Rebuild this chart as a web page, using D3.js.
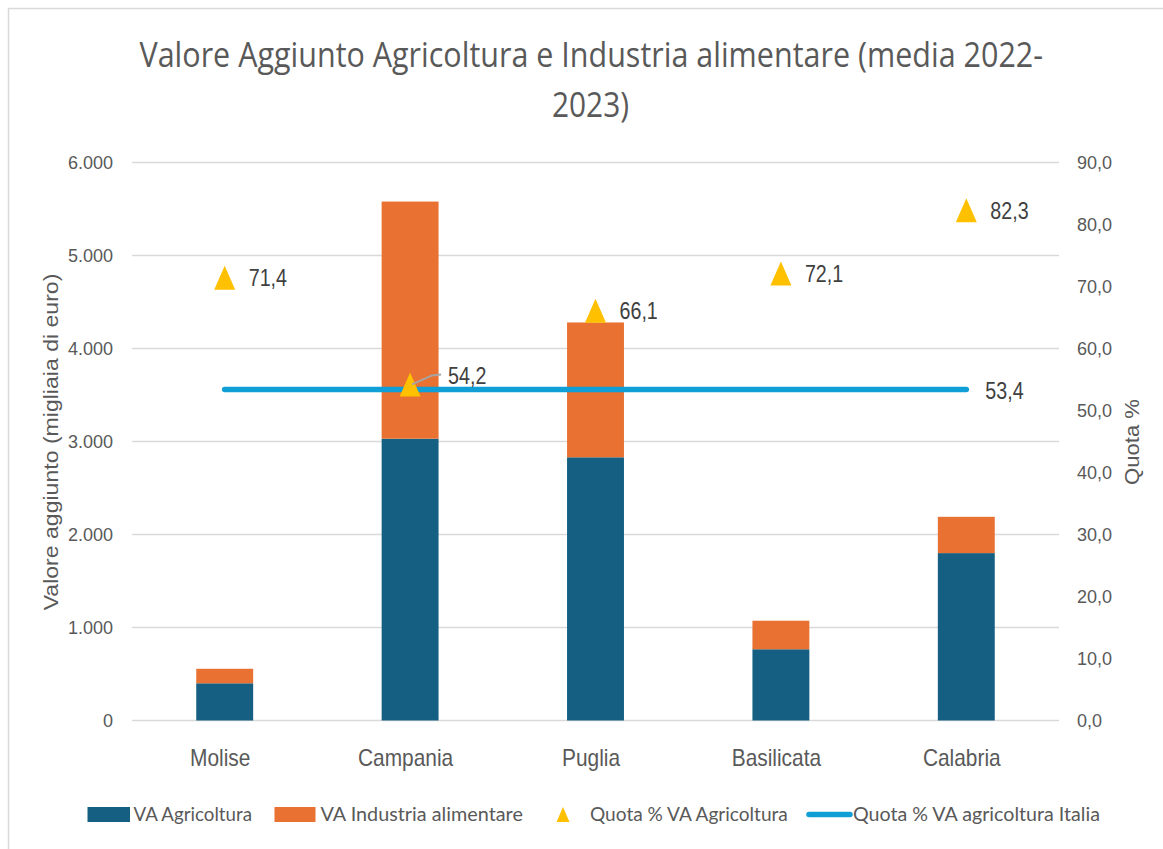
<!DOCTYPE html>
<html>
<head>
<meta charset="utf-8">
<script src="https://cdn.jsdelivr.net/npm/d3@7"></script>
<style>
  html, body { margin: 0; padding: 0; background: #ffffff; }
  svg { display: block; }
</style>
</head>
<body>
<svg id="chart" width="1163" height="849"></svg>
<script>
// ---------- DATA ----------
const categories = ["Molise", "Campania", "Puglia", "Basilicata", "Calabria"];
const vaAgricoltura = [400, 3030, 2830, 766, 1800];
const vaIndustria = [156, 2550, 1450, 307, 390];
const quotaAgricoltura = [71.4, 54.2, 66.1, 72.1, 82.3];
const quotaItalia = 53.4;
const leftTicks = [0, 1000, 2000, 3000, 4000, 5000, 6000];
const rightTicks = [0, 10, 20, 30, 40, 50, 60, 70, 80, 90];
const titleLines = ["Valore Aggiunto Agricoltura e Industria alimentare (media 2022-", "2023)"];
const legendLabels = ["VA Agricoltura", "VA Industria alimentare", "Quota % VA Agricoltura", "Quota % VA agricoltura Italia"];
const leftAxisTitle = "Valore aggiunto (migliaia di euro)";
const rightAxisTitle = "Quota %";

(function () {
// ---------- STYLE ----------
const C_BLUE = "#156082", C_ORANGE = "#E97132", C_GOLD = "#FFC000", C_LINE = "#0F9ED5";
const C_TEXT = "#595959", C_GRID = "#D9D9D9";

const svg = d3.select("#chart");
const pLeft = 132, pRight = 1059, pTop = 162.5, pBottom = 720.5;

// place a text at (tx,ty) with optional rotation, horizontally scaled to a target width
function fitText(parent, str, tx, ty, width, opts) {
  const g = parent.append("g");
  const t = g.append("text").text(str)
    .attr("font-family", opts.family).attr("font-size", opts.size).attr("fill", opts.fill || C_TEXT)
    .attr("text-anchor", opts.anchor || "start");
  const natural = t.node().getComputedTextLength();
  const s = natural > 0 ? width / natural : 1;
  g.attr("transform", `translate(${tx},${ty})${opts.rotate ? ` rotate(${opts.rotate})` : ""} scale(${s},1)`);
  return g;
}

// frame
svg.append("rect").attr("x", 8.5).attr("y", 8.5).attr("width", 1200).attr("height", 900)
  .attr("fill", "#fff").attr("stroke", C_GRID).attr("stroke-width", 1.5);

const x = d3.scaleBand().domain(categories).range([pLeft, pRight]).paddingInner(0.693).paddingOuter(0.3465);
const y = d3.scaleLinear().domain([0, 6000]).range([pBottom, pTop]);
const y2 = d3.scaleLinear().domain([0, 90]).range([pBottom, pTop]);

const itFmt = d3.formatLocale({decimal: ",", thousands: ".", grouping: [3], currency: ["€", ""]});
const fmtLeft = itFmt.format(",.0f");
const fmtRight = itFmt.format(".1f");

// gridlines
svg.append("g").selectAll("line").data(leftTicks).join("line")
  .attr("x1", pLeft).attr("x2", pRight)
  .attr("y1", d => y(d)).attr("y2", d => y(d))
  .attr("stroke", C_GRID).attr("stroke-width", 1.5);

// left axis
const gl = svg.append("g").attr("transform", `translate(${pLeft},0)`)
  .call(d3.axisLeft(y).tickValues(leftTicks).tickFormat(fmtLeft).tickSize(0).tickPadding(19));
gl.select(".domain").remove();
gl.selectAll("text").attr("font-family", "Liberation Sans, Arial, sans-serif").attr("font-size", 18).attr("fill", C_TEXT);

// right axis
const gr = svg.append("g").attr("transform", `translate(${pRight},0)`)
  .call(d3.axisRight(y2).tickValues(rightTicks).tickFormat(fmtRight).tickSize(0).tickPadding(18));
gr.select(".domain").remove();
gr.selectAll("text").attr("font-family", "Liberation Sans, Arial, sans-serif").attr("font-size", 18).attr("fill", C_TEXT);

// bars
const stackData = categories.map((c, i) => ({cat: c, agri: vaAgricoltura[i], ind: vaIndustria[i]}));
const stack = d3.stack().keys(["agri", "ind"])(stackData);
const colors = {agri: C_BLUE, ind: C_ORANGE};
svg.append("g").selectAll("g").data(stack).join("g")
  .attr("fill", d => colors[d.key])
  .selectAll("rect").data(d => d).join("rect")
  .attr("x", d => x(d.data.cat))
  .attr("width", x.bandwidth())
  .attr("y", d => y(d[1]))
  .attr("height", d => y(d[0]) - y(d[1]));

// category labels
svg.append("g").selectAll("text").data(categories).join("text")
  .attr("transform", d => `translate(${x(d) + x.bandwidth() / 2 - 4.5},766) scale(0.87,1)`)
  .attr("text-anchor", "middle")
  .attr("font-family", "Liberation Sans, Arial, sans-serif").attr("font-size", 24).attr("fill", C_TEXT)
  .text(d => d);

// Italy line
const cx = c => x(c) + x.bandwidth() / 2;
svg.append("line")
  .attr("x1", cx(categories[0])).attr("x2", cx(categories[categories.length - 1]))
  .attr("y1", y2(quotaItalia)).attr("y2", y2(quotaItalia))
  .attr("stroke", C_LINE).attr("stroke-width", 5.5).attr("stroke-linecap", "round");

// triangles
const tri = (w, h) => `M0,${-h / 2}L${w / 2},${h / 2}L${-w / 2},${h / 2}Z`;
svg.append("g").selectAll("path").data(quotaAgricoltura).join("path")
  .attr("d", tri(21, 24))
  .attr("transform", (d, i) => `translate(${cx(categories[i])},${y2(d)})`)
  .attr("fill", C_GOLD);

// data labels
const labelFont = "Liberation Sans, Arial, sans-serif";
quotaAgricoltura.forEach((d, i) => {
  const px = cx(categories[i]);
  const py = y2(d);
  const near = Math.abs(d - quotaItalia) < 3;
  const lx = near ? px + 38 : px + 24;
  const ly = near ? py - 9 : py;
  if (near) {
    svg.append("path")
      .attr("d", `M${px + 2},${py}L${px + 22},${py - 9}L${px + 31},${py - 10}`)
      .attr("fill", "none").attr("stroke", "#A6A6A6").attr("stroke-width", 2);
  }
  svg.append("text")
    .attr("transform", `translate(${lx},${ly}) scale(0.82,1)`)
    .attr("dy", "0.36em")
    .attr("font-family", labelFont).attr("font-size", 24).attr("fill", "#404040")
    .text(fmtRight(d));
});
svg.append("text")
  .attr("transform", `translate(${cx(categories[categories.length - 1]) + 19},${y2(quotaItalia) + 1}) scale(0.82,1)`)
  .attr("dy", "0.36em")
  .attr("font-family", labelFont).attr("font-size", 24).attr("fill", "#404040")
  .text(fmtRight(quotaItalia));

// title
const titleOpts = {family: "Open Sans, sans-serif", size: 35};
fitText(svg, titleLines[0], 139.5, 67, 904, titleOpts);
fitText(svg, titleLines[1], 552, 117, 77, titleOpts);

// axis titles
fitText(svg, leftAxisTitle, 58, 442, 337,
  {family: "Liberation Sans, Arial, sans-serif", size: 21, anchor: "middle", rotate: -90});
fitText(svg, rightAxisTitle, 1139, 442, 86,
  {family: "Liberation Sans, Arial, sans-serif", size: 21, anchor: "middle", rotate: -90});

// legend
const lg = svg.append("g");
const legY = 814.5;
const legTextWidths = [118.5, 202.5, 198, 247];
const legTextX = [133.5, 320.5, 590, 853];
lg.append("rect").attr("x", 87.5).attr("y", legY - 7.5).attr("width", 42.5).attr("height", 15).attr("fill", C_BLUE);
lg.append("rect").attr("x", 274.5).attr("y", legY - 7.5).attr("width", 41).attr("height", 15).attr("fill", C_ORANGE);
lg.append("path").attr("d", tri(13, 15)).attr("transform", `translate(563,${legY})`).attr("fill", C_GOLD);
lg.append("line").attr("x1", 809).attr("x2", 850).attr("y1", legY).attr("y2", legY)
  .attr("stroke", C_LINE).attr("stroke-width", 5.5).attr("stroke-linecap", "round");
legendLabels.forEach((t, i) => {
  fitText(lg, t, legTextX[i], legY + 6.5, legTextWidths[i], {family: "Lato, sans-serif", size: 20});
});
})();
</script>
</body>
</html>
